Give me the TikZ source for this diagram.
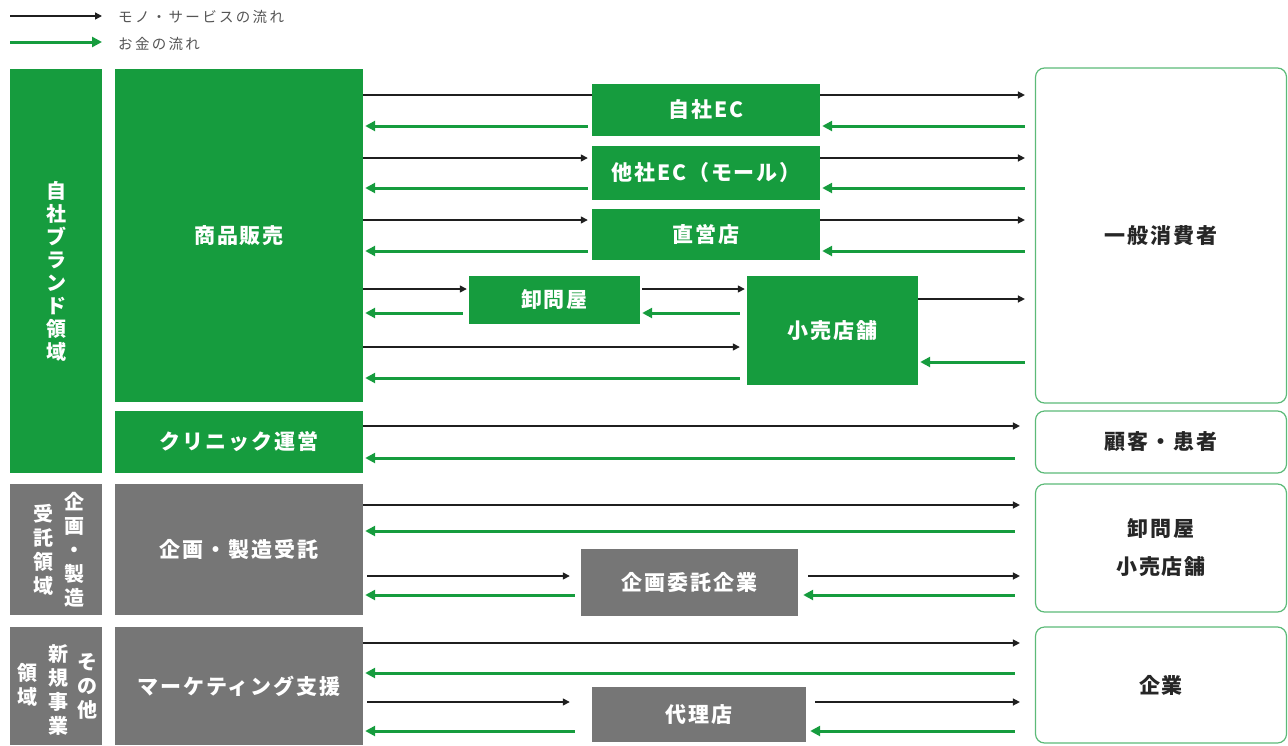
\documentclass[tikz,border=0pt]{standalone}
\usepackage{fontspec}
\setmainfont{Noto Sans CJK JP}[LetterSpace=9]
\newfontfamily\legfont{Noto Sans CJK JP}[LetterSpace=16]
\usetikzlibrary{arrows.meta}
\definecolor{gr}{RGB}{22,156,62}
\definecolor{gy}{RGB}{118,118,118}
\definecolor{gtxt}{RGB}{85,85,85}
\begin{document}
\begin{tikzpicture}[x=1pt,y=-1pt,
  gbox/.style={fill=gr,draw=none,text=white,font=\bfseries\fontsize{21}{24}\selectfont,inner sep=0pt,align=center},
  ybox/.style={fill=gy,draw=none,text=white,font=\bfseries\fontsize{21}{24}\selectfont,inner sep=0pt,align=center},
  rbox/.style={fill=white,draw=gr!70,line width=1.2pt,rounded corners=9pt,text=black!85,font=\bfseries\fontsize{21}{38}\selectfont,inner sep=0pt,align=center},
  vtxt/.style={text=white,align=center,inner sep=0pt},
  blk/.style={draw=black!88,line width=1.4pt,-{Triangle[length=7pt,width=7pt]}},
  blkn/.style={draw=black!88,line width=1.4pt},
  grn/.style={draw=gr,line width=3pt,-{Triangle[length=10pt,width=10pt]}},
  leg/.style={text=gtxt,font=\legfont\fontsize{14.5}{16}\selectfont,anchor=west,inner sep=0pt}]
\useasboundingbox (0,0) rectangle (1288,745);
% legend
\coordinate (l1a) at (10,16); \coordinate (l1b) at (102,16);
\coordinate (l2a) at (10,42); \coordinate (l2b) at (102,42);
\draw[blk] (l1a) -- (l1b);
\draw[grn] (l2a) -- (l2b);
\node[leg] (lt1) at (118,17) {モノ・サービスの流れ};
\node[leg] (lt2) at (118,44) {お金の流れ};
% left column
\node[gbox,minimum width=92pt,minimum height=404pt] (brand) at (56,271) {};
\node[ybox,minimum width=92pt,minimum height=131pt] (kl) at (56,549.5) {};
\node[ybox,minimum width=92pt,minimum height=118pt] (ol) at (56,686) {};
\node[vtxt,font=\bfseries\fontsize{20}{23}\selectfont] (bt) at (56,271) {自\\社\\ブ\\ラ\\ン\\ド\\領\\域};
\node[vtxt,font=\bfseries\fontsize{20}{24}\selectfont] (kt1) at (74,550) {企\\画\\・\\製\\造};
\node[vtxt,font=\bfseries\fontsize{20}{24}\selectfont] (kt2) at (43,550) {受\\託\\領\\域};
\node[vtxt,font=\bfseries\fontsize{20}{24}\selectfont] (ot1) at (87,686) {そ\\の\\他};
\node[vtxt,font=\bfseries\fontsize{20}{24}\selectfont] (ot2) at (58,690) {新\\規\\事\\業};
\node[vtxt,font=\bfseries\fontsize{20}{24}\selectfont] (ot3) at (27,685) {領\\域};
% second column
\node[gbox,minimum width=248pt,minimum height=333pt] (shohin) at (239,235.5) {商品販売};
\node[gbox,minimum width=248pt,minimum height=62pt] (clinic) at (239,442) {クリニック運営};
\node[ybox,minimum width=248pt,minimum height=131pt] (seizo) at (239,549.5) {企画・製造受託};
\node[ybox,minimum width=248pt,minimum height=118pt] (mkt) at (239,686) {マーケティング支援};
% middle boxes
\node[gbox,minimum width=228pt,minimum height=52pt] (jec) at (706,110) {自社EC};
\node[gbox,minimum width=228pt,minimum height=54pt] (tec) at (706,173) {他社EC（モール）};
\node[gbox,minimum width=228pt,minimum height=51pt] (choku) at (706,234.5) {直営店};
\node[gbox,minimum width=171pt,minimum height=48pt] (oro) at (554.5,300) {卸問屋};
\node[gbox,minimum width=171pt,minimum height=109pt] (kouri) at (832.5,330.5) {小売店舗};
\node[ybox,minimum width=217pt,minimum height=67pt] (itaku) at (689.5,582.5) {企画委託企業};
\node[ybox,minimum width=214pt,minimum height=55pt] (dairi) at (699,714.5) {代理店};
% right boxes
\node[rbox,minimum width=251pt,minimum height=335pt] (cons) at (1161,235.5) {一般消費者};
\node[rbox,minimum width=251pt,minimum height=62pt] (pat) at (1161,442) {顧客・患者};
\node[rbox,minimum width=251pt,minimum height=128pt] (orok) at (1161,548) {卸問屋\\小売店舗};
\node[rbox,minimum width=251pt,minimum height=116pt] (kig) at (1161,685) {企業};
% arrows: 自社EC row
\draw[blkn] (shohin.east |- 0,95) -- (jec.west |- 0,95);
\draw[blk] (jec.east |- 0,95) -- ([xshift=-10pt]cons.west |- 0,95);
\draw[grn] ([xshift=-4pt]jec.west |- 0,126) -- ([xshift=2pt]shohin.east |- 0,126);
\draw[grn] ([xshift=-10pt]cons.west |- 0,126) -- ([xshift=2pt]jec.east |- 0,126);
% 他社EC row
\draw[blk] (shohin.east |- 0,158) -- ([xshift=-4pt]tec.west |- 0,158);
\draw[blk] (tec.east |- 0,158) -- ([xshift=-10pt]cons.west |- 0,158);
\draw[grn] ([xshift=-4pt]tec.west |- 0,188) -- ([xshift=2pt]shohin.east |- 0,188);
\draw[grn] ([xshift=-10pt]cons.west |- 0,188) -- ([xshift=2pt]tec.east |- 0,188);
% 直営店 row
\draw[blk] (shohin.east |- 0,220) -- ([xshift=-4pt]choku.west |- 0,220);
\draw[blk] (choku.east |- 0,220) -- ([xshift=-10pt]cons.west |- 0,220);
\draw[grn] ([xshift=-4pt]choku.west |- 0,251) -- ([xshift=2pt]shohin.east |- 0,251);
\draw[grn] ([xshift=-10pt]cons.west |- 0,251) -- ([xshift=2pt]choku.east |- 0,251);
% 卸問屋 row
\draw[blk] (shohin.east |- 0,289) -- ([xshift=-2pt]oro.west |- 0,289);
\draw[blk] ([xshift=2pt]oro.east |- 0,289) -- ([xshift=-2pt]kouri.west |- 0,289);
\draw[blk] (kouri.east |- 0,299) -- ([xshift=-10pt]cons.west |- 0,299);
\draw[grn] ([xshift=-6pt]oro.west |- 0,313) -- ([xshift=2pt]shohin.east |- 0,313);
\draw[grn] ([xshift=-7pt]kouri.west |- 0,313) -- ([xshift=2pt]oro.east |- 0,313);
\draw[grn] ([xshift=-10pt]cons.west |- 0,362) -- ([xshift=2pt]kouri.east |- 0,362);
% 小売店舗 direct
\draw[blk] (shohin.east |- 0,347) -- ([xshift=-7pt]kouri.west |- 0,347);
\draw[grn] ([xshift=-7pt]kouri.west |- 0,378) -- ([xshift=2pt]shohin.east |- 0,378);
% clinic
\draw[blk] (clinic.east |- 0,426) -- ([xshift=-15pt]pat.west |- 0,426);
\draw[grn] ([xshift=-20pt]pat.west |- 0,458) -- ([xshift=2pt]clinic.east |- 0,458);
% 企画・製造受託
\draw[blk] (seizo.east |- 0,505) -- ([xshift=-15pt]orok.west |- 0,505);
\draw[grn] ([xshift=-20pt]orok.west |- 0,531) -- ([xshift=2pt]seizo.east |- 0,531);
\draw[blk] ([xshift=4pt]seizo.east |- 0,576) -- ([xshift=-11pt]itaku.west |- 0,576);
\draw[blk] ([xshift=10pt]itaku.east |- 0,576) -- ([xshift=-15pt]orok.west |- 0,576);
\draw[grn] ([xshift=-6pt]itaku.west |- 0,595) -- ([xshift=2pt]seizo.east |- 0,595);
\draw[grn] ([xshift=-20pt]orok.west |- 0,595) -- ([xshift=5pt]itaku.east |- 0,595);
% マーケティング支援
\draw[blk] (mkt.east |- 0,643) -- ([xshift=-15pt]kig.west |- 0,643);
\draw[grn] ([xshift=-20pt]kig.west |- 0,673) -- ([xshift=2pt]mkt.east |- 0,673);
\draw[blk] ([xshift=4pt]mkt.east |- 0,702) -- ([xshift=-22pt]dairi.west |- 0,702);
\draw[blk] ([xshift=9pt]dairi.east |- 0,702) -- ([xshift=-15pt]kig.west |- 0,702);
\draw[grn] ([xshift=-17pt]dairi.west |- 0,731) -- ([xshift=2pt]mkt.east |- 0,731);
\draw[grn] ([xshift=-20pt]kig.west |- 0,731) -- ([xshift=4pt]dairi.east |- 0,731);
\end{tikzpicture}
\end{document}
